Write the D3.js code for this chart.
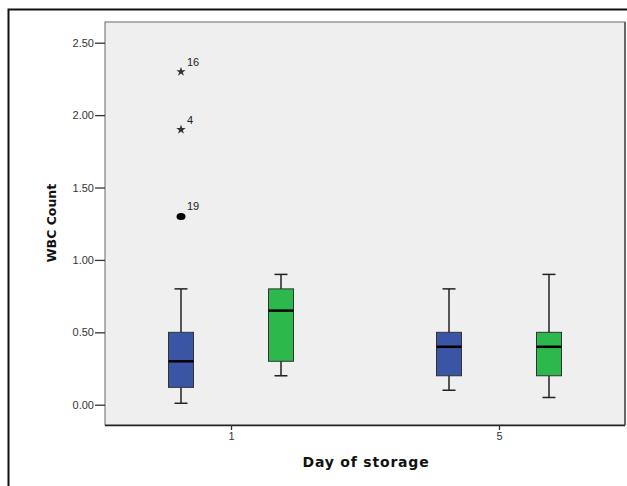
<!DOCTYPE html>
<html>
<head>
<meta charset="utf-8">
<script src="https://cdn.jsdelivr.net/npm/d3@7"></script>
<style>
  body { margin: 0; background: #fff; }
  svg { display: block; }
</style>
</head>
<body>
<svg id="chart" width="627" height="486"></svg>
<script>
// Data
const days = ['1', '5'];
const groups = ['A', 'B'];
const groupColors = ['#3A54A6', '#2DB84B'];
// five-number summaries for each day/group
const boxStats = [
    { day: '1', group: 'A', lo: 0.01, q1: 0.12, med: 0.30, q3: 0.50, hi: 0.80 },
    { day: '1', group: 'B', lo: 0.20, q1: 0.30, med: 0.65, q3: 0.80, hi: 0.90 },
    { day: '5', group: 'A', lo: 0.10, q1: 0.20, med: 0.40, q3: 0.50, hi: 0.80 },
    { day: '5', group: 'B', lo: 0.05, q1: 0.20, med: 0.40, q3: 0.50, hi: 0.90 }
];
const outliers = [
    { day: '1', group: 'A', value: 2.30, label: '16', type: 'extreme' },
    { day: '1', group: 'A', value: 1.90, label: '4', type: 'extreme' },
    { day: '1', group: 'A', value: 1.30, label: '19', type: 'outlier' }
];
const yTicks = [0, 0.5, 1.0, 1.5, 2.0, 2.5];

const svg = d3.select('#chart');
const margin = { top: 22, right: 2, bottom: 61, left: 105 };
const width = 627, height = 486;
const innerWidth = width - margin.left - margin.right;
const innerHeight = height - margin.top - margin.bottom;

// outer frame (cut at right and bottom)
svg.append('path')
    .attr('d', `M8.5,${height} L8.5,9.5 L${width},9.5`)
    .attr('fill', 'none')
    .attr('stroke', '#111')
    .attr('stroke-width', 2);

const g = svg.append('g').attr('transform', `translate(${margin.left},${margin.top})`);

const x = d3.scalePoint().domain(days).range([126, 394]);
const xg = d3.scalePoint().domain(groups).range([-50, 50]);
const y = d3.scaleLinear().domain([-0.14, 2.643]).range([innerHeight, 0]);

// plot background
g.append('rect')
    .attr('x', 0).attr('y', 0)
    .attr('width', innerWidth).attr('height', innerHeight)
    .attr('fill', '#EFEFEF')
    .attr('stroke', '#666')
    .attr('stroke-width', 1);
g.append('line')
    .attr('x1', innerWidth).attr('x2', innerWidth)
    .attr('y1', 0).attr('y2', innerHeight)
    .attr('stroke', '#666').attr('stroke-width', 2);

// axes
const yAxis = g.append('g')
    .call(d3.axisLeft(y).tickValues(yTicks).tickFormat(d3.format('.2f')).tickSize(10).tickPadding(1));
const xAxis = g.append('g')
    .attr('transform', `translate(0,${innerHeight})`)
    .call(d3.axisBottom(x).tickSize(5).tickPadding(2));
[yAxis, xAxis].forEach(a => {
    a.select('.domain').attr('stroke', '#222').attr('stroke-width', 1.5);
    a.selectAll('.tick line').attr('stroke', '#333').attr('stroke-width', 1.3);
    a.selectAll('.tick text')
        .attr('fill', '#333')
        .style('font-family', 'Liberation Sans, Arial, sans-serif')
        .style('font-size', '11px');
});
yAxis.select('.domain').remove();
xAxis.select('.domain').attr('d', `M0,0.5H${innerWidth}`);

// boxes
const boxW = 25, capW = 13;
boxStats.forEach(b => {
    const cx = x(b.day) + xg(b.group);
    const col = groupColors[groups.indexOf(b.group)];
    const bg = g.append('g');
    bg.append('line')
        .attr('x1', cx).attr('x2', cx)
        .attr('y1', y(b.hi)).attr('y2', y(b.lo))
        .attr('stroke', '#222').attr('stroke-width', 1.5);
    [b.hi, b.lo].forEach(v => {
        bg.append('line')
            .attr('x1', cx - capW / 2).attr('x2', cx + capW / 2)
            .attr('y1', y(v)).attr('y2', y(v))
            .attr('stroke', '#222').attr('stroke-width', 1.5);
    });
    bg.append('rect')
        .attr('x', cx - boxW / 2).attr('y', y(b.q3))
        .attr('width', boxW).attr('height', y(b.q1) - y(b.q3))
        .attr('fill', col)
        .attr('stroke', '#333').attr('stroke-width', 1);
    bg.append('line')
        .attr('x1', cx - boxW / 2).attr('x2', cx + boxW / 2)
        .attr('y1', y(b.med)).attr('y2', y(b.med))
        .attr('stroke', '#000').attr('stroke-width', 2.5);
});

// outliers
outliers.forEach(o => {
    const cx = x(o.day) + xg(o.group);
    const cy = y(o.value);
    if (o.type === 'extreme') {
        g.append('path')
            .attr('transform', `translate(${cx},${cy})`)
            .attr('d', d3.symbol().type(d3.symbolStar).size(28))
            .attr('fill', '#333');
    } else {
        g.append('ellipse')
            .attr('cx', cx).attr('cy', cy)
            .attr('rx', 4.5).attr('ry', 3.5)
            .attr('fill', '#000');
    }
    g.append('text')
        .attr('x', cx + 6).attr('y', cy - 6)
        .style('font-family', 'Liberation Sans, Arial, sans-serif')
        .style('font-size', '11px')
        .attr('fill', '#222')
        .text(o.label);
});

// axis titles
svg.append('text')
    .attr('transform', `translate(56,223) rotate(-90)`)
    .attr('text-anchor', 'middle')
    .style('font-family', 'DejaVu Sans, sans-serif')
    .style('font-weight', 'bold')
    .style('font-size', '12.5px')
    .attr('fill', '#111')
    .text('WBC Count');

svg.append('text')
    .attr('x', 366).attr('y', 467)
    .attr('text-anchor', 'middle')
    .style('font-family', 'DejaVu Sans, sans-serif')
    .style('font-weight', 'bold')
    .style('font-size', '14px')
    .style('letter-spacing', '0.8px')
    .attr('fill', '#111')
    .text('Day of storage');
</script>
</body>
</html>
